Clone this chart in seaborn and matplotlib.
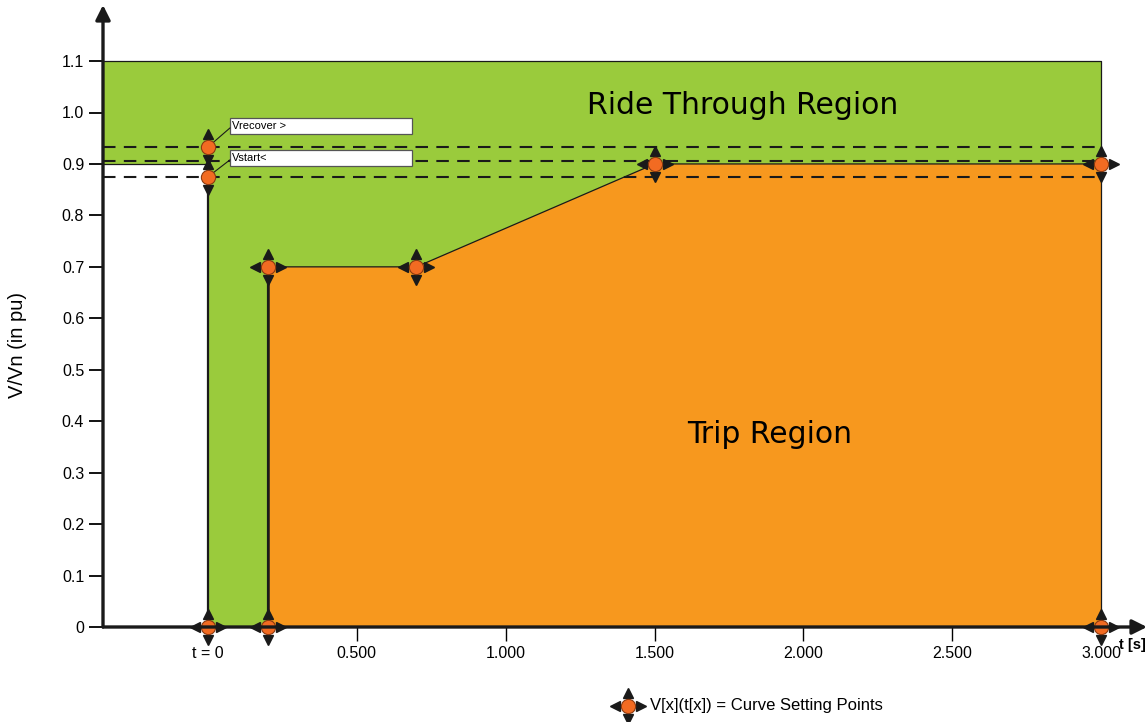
import numpy as np
import matplotlib
matplotlib.use("Agg")
import matplotlib.pyplot as plt
from matplotlib.patches import Rectangle
from matplotlib.transforms import offset_copy
import seaborn as sns

# curve setting points (t in s, V in pu)
t_curve = [0.2, 0.2, 0.7, 1.5, 3.0]
v_curve = [0.0, 0.7, 0.7, 0.9, 0.9]
t_pts = [0.0, 0.2, 0.2, 0.7, 1.5, 3.0, 3.0]
v_pts = [0.0, 0.0, 0.7, 0.7, 0.9, 0.9, 0.0]
v_recover = 0.933
v_mid = 0.905
v_start = 0.875
v_top = 1.1
t_end = 3.0

x_ticks = [0.0, 0.5, 1.0, 1.5, 2.0, 2.5, 3.0]
x_labels = ["t = 0", "0.500", "1.000", "1.500", "2.000", "2.500", "3.000"]
y_ticks = [0, 0.1, 0.2, 0.3, 0.4, 0.5, 0.6, 0.7, 0.8, 0.9, 1.0, 1.1]
y_labels = ["0", "0.1", "0.2", "0.3", "0.4", "0.5", "0.6", "0.7", "0.8", "0.9", "1.0", "1.1"]

sns.set_theme(style="white")
plt.rcParams["font.family"] = ["Liberation Sans", "DejaVu Sans"]
plt.rcParams["text.color"] = "black"
plt.rcParams["xtick.color"] = "black"
plt.rcParams["ytick.color"] = "black"

green = "#9acb3c"
orange = "#f7981e"
dot = "#f26b22"

fig = plt.figure(figsize=(11.47, 7.22), dpi=100)
ax = fig.add_axes([103 / 1147, 95 / 722, 1044 / 1147, 622 / 722])
sx = 297.7  # px per second
x_left = -105 / sx
ax.set_xlim(x_left, (1147 - 208) / sx)
ax.set_ylim(0, 622 / 514.5)
for s in ax.spines.values():
    s.set_visible(False)

# ride through region (green) and trip region (orange)
ax.fill([x_left, t_end, t_end, 0, 0, x_left], [v_top, v_top, 0, 0, 0.9, 0.9],
        color=green, lw=0, zorder=1)
ax.fill(t_curve + [t_end], v_curve + [0], color=orange, lw=0, zorder=2)

# outlines
ax.plot([x_left, t_end, t_end], [v_top, v_top, 0], color="k", lw=0.9, zorder=3)
ax.plot([x_left, 0], [0.9, 0.9], color="k", lw=0.9, zorder=3)
ax.plot([0, 0], [0.9, 0], color="k", lw=1.6, zorder=3)
sns.lineplot(x=t_curve, y=v_curve, ax=ax, color="k", lw=0.9, sort=False,
             estimator=None, zorder=3)
ax.plot([t_curve[0], t_curve[1]], [v_curve[0], v_curve[1]], color="k", lw=1.8, zorder=3)

# dashed levels
for v in [v_recover, v_mid, v_start]:
    ax.plot([x_left, t_end], [v, v], color="k", lw=1.5, ls=(0, (6, 4)), zorder=4)

# label boxes
bx0, bw = 22 / sx, 182 / sx
def label_box(y, txt, py):
    ax.add_patch(Rectangle((bx0, y), bw, 0.031, facecolor="white",
                           edgecolor="#555555", lw=0.9, zorder=5))
    ax.text(bx0 + 0.006, y + 0.0165, txt, fontsize=8, va="center", ha="left", zorder=6)
    ax.plot([0, bx0], [py, y + 0.012], color="k", lw=0.8, zorder=5)

label_box(0.958, "Vrecover >", v_recover)
label_box(0.896, "Vstart<", v_start)

# setting point markers with move arrows
def handle(x, y, horiz=True):
    d = 13
    tr = ax.transData
    ax.plot([x], [y], marker="|", ms=17, mew=1.2, color="k", zorder=7, clip_on=False)
    ax.plot([x], [y], marker="^", ms=6.5, color="k", zorder=7, clip_on=False,
            transform=offset_copy(tr, fig, x=0, y=d, units="dots"))
    ax.plot([x], [y], marker="v", ms=6.5, color="k", zorder=7, clip_on=False,
            transform=offset_copy(tr, fig, x=0, y=-d, units="dots"))
    if horiz:
        ax.plot([x], [y], marker="_", ms=17, mew=1.2, color="k", zorder=7, clip_on=False)
        ax.plot([x], [y], marker="<", ms=6.5, color="k", zorder=7, clip_on=False,
                transform=offset_copy(tr, fig, x=-d, y=0, units="dots"))
        ax.plot([x], [y], marker=">", ms=6.5, color="k", zorder=7, clip_on=False,
                transform=offset_copy(tr, fig, x=d, y=0, units="dots"))

for t, v in zip(t_pts, v_pts):
    handle(t, v)
handle(0, v_recover, horiz=False)
handle(0, v_start, horiz=False)

all_t = t_pts + [0, 0]
all_v = v_pts + [v_recover, v_start]
sns.scatterplot(x=all_t, y=all_v, ax=ax, s=105, color=dot, edgecolor="#8a3a10",
                linewidth=0.8, zorder=8, clip_on=False)

# axes with arrows
ax.annotate("", xy=(1.0, 0), xycoords="axes fraction", xytext=(0, 0),
            arrowprops=dict(arrowstyle="-|>", lw=2.4, color="k", mutation_scale=22,
                            shrinkA=0, shrinkB=0), zorder=9)
ax.annotate("", xy=(0, 1.0), xycoords="axes fraction", xytext=(0, 0),
            arrowprops=dict(arrowstyle="-|>", lw=2.4, color="k", mutation_scale=22,
                            shrinkA=0, shrinkB=0), zorder=9)

ax.set_yticks(y_ticks)
ax.set_yticklabels(y_labels, fontsize=11.5)
ax.set_xticks(x_ticks)
ax.set_xticklabels(x_labels, fontsize=11.5)
ax.tick_params(axis="y", direction="out", length=10, width=1.3, pad=3.5, left=True)
ax.tick_params(axis="x", direction="out", length=10, width=1.0, pad=4, bottom=True)

ax.text(1.797, 1.013, "Ride Through Region", fontsize=21.5, family="DejaVu Sans",
        ha="center", va="center", zorder=6)
ax.text(1.888, 0.375, "Trip Region", fontsize=21.5, family="DejaVu Sans",
        ha="center", va="center", zorder=6)

fig.text(18 / 1147, 1 - 345 / 722, "V/Vn (in pu)", rotation=90, fontsize=14.5,
         ha="center", va="center")
fig.text(1132 / 1147, 1 - 645 / 722, "t [s]", fontsize=10.5, fontweight="bold",
         ha="center", va="center")

# legend
handle(1.411, -0.1535)
ax.scatter([1.411], [-0.1535], s=105, color=dot, edgecolor="#8a3a10", lw=0.8,
           zorder=8, clip_on=False)
ax.text(1.485, -0.1535, "V[x](t[x]) = Curve Setting Points", fontsize=12,
        ha="left", va="center")

fig.savefig("out.png", dpi=100)
